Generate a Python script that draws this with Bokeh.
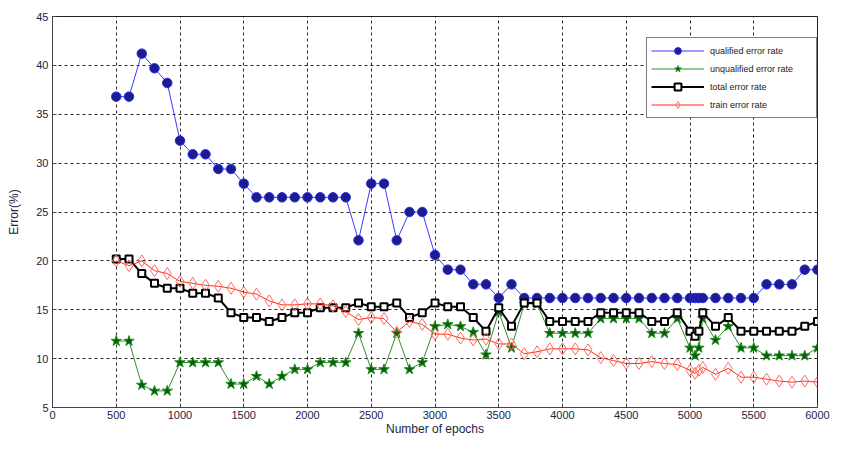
from bokeh.plotting import figure
from bokeh.models import Range1d, FixedTicker, Legend, LegendItem
from bokeh.embed import file_html
from bokeh.resources import INLINE

epochs = [500, 600, 700, 800, 900, 1000, 1100, 1200, 1300, 1400,
          1500, 1600, 1700, 1800, 1900, 2000, 2100, 2200, 2300, 2400,
          2500, 2600, 2700, 2800, 2900, 3000, 3100, 3200, 3300, 3400,
          3500, 3600, 3700, 3800, 3900, 4000, 4100, 4200, 4300, 4400,
          4500, 4600, 4700, 4800, 4900, 5000, 5040, 5070, 5100, 5200,
          5300, 5400, 5500, 5600, 5700, 5800, 5900, 6000]

qualified = [36.8, 36.8, 41.2, 39.7, 38.2, 32.3, 30.9, 30.9, 29.4, 29.4,
             27.9, 26.5, 26.5, 26.5, 26.5, 26.5, 26.5, 26.5, 26.5, 22.1,
             27.9, 27.9, 22.1, 25.0, 25.0, 20.6, 19.1, 19.1, 17.6, 17.6,
             16.2, 17.6, 16.2, 16.2, 16.2, 16.2, 16.2, 16.2, 16.2, 16.2,
             16.2, 16.2, 16.2, 16.2, 16.2, 16.2, 16.2, 16.2, 16.2, 16.2,
             16.2, 16.2, 16.2, 17.6, 17.6, 17.6, 19.1, 19.1]

unqualified = [11.8, 11.8, 7.3, 6.7, 6.7, 9.6, 9.6, 9.6, 9.6, 7.4,
               7.4, 8.2, 7.4, 8.2, 8.9, 8.9, 9.6, 9.6, 9.6, 12.6,
               8.9, 8.9, 12.6, 8.9, 9.6, 13.3, 13.5, 13.3, 12.7, 10.4,
               14.8, 11.1, 15.6, 15.6, 12.6, 12.6, 12.6, 12.6, 14.1, 14.1,
               14.1, 14.1, 12.6, 12.6, 14.1, 11.1, 10.3, 11.1, 14.1, 11.9,
               13.3, 11.1, 11.1, 10.3, 10.3, 10.3, 10.3, 11.1]

total = [20.2, 20.2, 18.7, 17.7, 17.2, 17.2, 16.7, 16.7, 16.2, 14.7,
         14.2, 14.2, 13.8, 14.2, 14.7, 14.7, 15.2, 15.2, 15.2, 15.7,
         15.3, 15.3, 15.7, 14.2, 14.7, 15.7, 15.3, 15.3, 14.2, 12.8,
         15.2, 13.3, 15.7, 15.7, 13.8, 13.8, 13.8, 13.8, 14.7, 14.7,
         14.7, 14.7, 13.8, 13.8, 14.7, 12.8, 12.3, 12.8, 14.7, 13.3,
         14.2, 12.8, 12.8, 12.8, 12.8, 12.8, 13.3, 13.8]

train = [20.0, 19.5, 20.0, 19.0, 18.7, 17.9, 17.7, 17.5, 17.4, 17.2,
         16.8, 16.6, 15.9, 15.5, 15.5, 15.6, 15.6, 15.4, 14.8, 14.0,
         14.2, 14.1, 12.7, 13.8, 13.5, 12.5, 12.5, 12.1, 11.9, 12.0,
         11.5, 11.5, 10.5, 10.7, 11.0, 11.0, 11.0, 10.9, 10.1, 9.8,
         9.5, 9.5, 9.7, 9.5, 9.4, 8.8, 8.5, 8.8, 9.1, 8.4,
         9.0, 8.1, 8.1, 7.9, 7.7, 7.6, 7.7, 7.6]

series_names = ["qualified error rate", "unqualified error rate",
                "total error rate", "train error rate"]
x_ticks = list(range(0, 6001, 500))
y_ticks = list(range(5, 46, 5))

FONT = "Liberation Sans"

p = figure(width=830, height=438, x_range=Range1d(0, 6000), y_range=Range1d(5, 45),
           output_backend="svg", toolbar_location=None,
           min_border_left=52, min_border_right=13, min_border_top=16, min_border_bottom=30,
           background_fill_color="white", border_fill_color="white")
p.outline_line_color = "#222222"
p.outline_line_width = 1

for ax in (p.xaxis[0], p.yaxis[0]):
    ax.major_tick_in = 4
    ax.major_tick_out = 0
    ax.minor_tick_line_color = None
    ax.axis_line_color = "#444444"
    ax.major_tick_line_color = "#444444"
    ax.major_label_text_font = FONT
    ax.major_label_text_font_size = "11px"
    ax.major_label_text_color = "#222244"
    ax.axis_label_text_font = FONT
    ax.axis_label_text_font_size = "12px"
    ax.axis_label_text_font_style = "normal"
    ax.axis_label_text_color = "#222244"
    ax.major_label_standoff = 3
    ax.axis_label_standoff = 0

p.yaxis[0].major_label_standoff = 4
p.yaxis[0].axis_label_standoff = 12

p.xaxis.ticker = FixedTicker(ticks=x_ticks)
p.yaxis.ticker = FixedTicker(ticks=y_ticks)
p.xaxis.axis_label = "Number of epochs"
p.yaxis.axis_label = "Error(%)"

p.grid.grid_line_color = "black"
p.grid.grid_line_dash = "3 3"
p.grid.grid_line_width = 1
p.grid.grid_line_alpha = 0.85

l1 = p.line(epochs, qualified, line_color="#3a3aff", line_width=1)
m1 = p.scatter(epochs, qualified, marker="circle", size=9.5,
               fill_color="#1c1c8c", line_color="#2a2aee", line_width=1)

l2 = p.line(epochs, unqualified, line_color="#2f8f2f", line_width=1)
m2 = p.scatter(epochs, unqualified, marker="star", size=11,
               fill_color="#0b5a0b", line_color="#1f8f1f", line_width=1)

l3 = p.line(epochs, total, line_color="black", line_width=2)
m3 = p.scatter(epochs, total, marker="square", size=7,
               fill_color="white", line_color="black", line_width=2)

l4 = p.line(epochs, train, line_color="#ff3010", line_width=1)
m4 = p.scatter(epochs, train, marker="diamond", size=12,
               fill_alpha=0, line_color="#ff6a60", line_width=1)

legend = Legend(items=[
    LegendItem(label=series_names[0], renderers=[l1, m1]),
    LegendItem(label=series_names[1], renderers=[l2, m2]),
    LegendItem(label=series_names[2], renderers=[l3, m3]),
    LegendItem(label=series_names[3], renderers=[l4, m4]),
], location=(594, 289))
legend.label_text_font = FONT
legend.label_text_font_size = "9px"
legend.label_text_color = "#222222"
legend.glyph_width = 53
legend.glyph_height = 17
legend.label_height = 17
legend.label_width = 102
legend.label_standoff = 6
legend.spacing = 1
legend.padding = 4
legend.margin = 0
legend.border_line_color = "black"
legend.border_line_width = 1
legend.background_fill_color = "white"
legend.background_fill_alpha = 1
p.add_layout(legend, "center")

open("out.html", "w").write(file_html(p, INLINE))
